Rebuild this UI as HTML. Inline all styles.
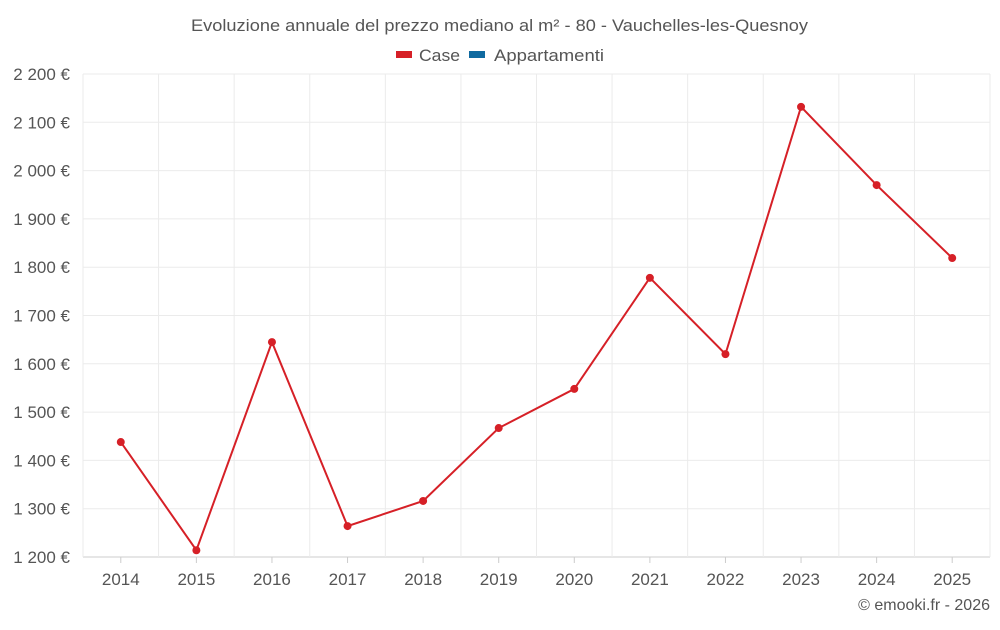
<!DOCTYPE html>
<html><head><meta charset="utf-8">
<style>
body{margin:0;background:#fff;font-family:"Liberation Sans",sans-serif;}
svg text{font-family:"Liberation Sans",sans-serif;}
</style></head>
<body>
<svg id="chart" width="1000" height="625" xmlns="http://www.w3.org/2000/svg">
<text x="191" y="31" textLength="617" lengthAdjust="spacingAndGlyphs" font-size="17" fill="#555">Evoluzione annuale del prezzo mediano al m² - 80 - Vauchelles-les-Quesnoy</text>
<g>
<rect x="396" y="51" width="16" height="7" fill="#d62027"/>
<text x="419" y="61" textLength="41" lengthAdjust="spacingAndGlyphs" font-size="17" fill="#555">Case</text>
<rect x="469" y="51" width="16" height="7" fill="#0f6aa0"/>
<text x="494" y="61" textLength="110" lengthAdjust="spacingAndGlyphs" font-size="17" fill="#555">Appartamenti</text>
</g>
<g id="grid"></g><g id="axes"></g><g id="series"></g>
<text x="990" y="610" text-anchor="end" font-size="16" fill="#555">© emooki.fr - 2026</text>
</svg>
<script>
const years=["2014","2015","2016","2017","2018","2019","2020","2021","2022","2023","2024","2025"];
const caseValues=[1438,1214,1645,1264,1316,1467,1548,1778,1620,2132,1970,1819];
const yTicks=[1200,1300,1400,1500,1600,1700,1800,1900,2000,2100,2200];
const NS="http://www.w3.org/2000/svg";
const L=83,R=990,T=74,B=557,yMin=1200,yMax=2200;
const bw=(R-L)/years.length;
const x=i=>L+bw*(i+0.5);
const y=v=>B-(v-yMin)/(yMax-yMin)*(B-T);
function mk(tag,attrs,parent){const e=document.createElementNS(NS,tag);for(const k in attrs)e.setAttribute(k,attrs[k]);parent.appendChild(e);return e;}
const grid=document.getElementById('grid'),axes=document.getElementById('axes'),series=document.getElementById('series');
yTicks.forEach(t=>{
 const l=mk('line',{x1:L,x2:R,y1:y(t),y2:y(t),stroke:t===yMin?'#ccc':'#ebebeb','stroke-width':1},grid);
 
 
 const tx=mk('text',{x:70,y:y(t)+6,'text-anchor':'end','font-size':17,fill:'#555'},axes);
 tx.textContent=String(t).replace(/\B(?=(\d{3})+(?!\d))/g,' ')+' €';
 
 
});
for(let i=0;i<=years.length;i++){
 const gx=L+bw*i;
 const l=mk('line',{x1:gx,x2:gx,y1:T,y2:B,stroke:'#ebebeb','stroke-width':1},grid);
 
 
}
years.forEach((yr,i)=>{
 const tk=mk('line',{x1:x(i),x2:x(i),y1:B,y2:B+6,stroke:'#ccc'},axes);
 
 
 const tx=mk('text',{x:x(i),y:585,'text-anchor':'middle','font-size':17,fill:'#555'},axes);
 tx.textContent=yr;
 
 
});
const pts=caseValues.map((v,i)=>x(i)+','+y(v)).join(' ');
const pl=mk('polyline',{points:pts,fill:'none',stroke:'#d62027','stroke-width':2},series);


caseValues.forEach((v,i)=>{
 const c=mk('circle',{cx:x(i),cy:y(v),r:4,fill:'#d62027'},series);
 
 
});
</script>
</body></html>
